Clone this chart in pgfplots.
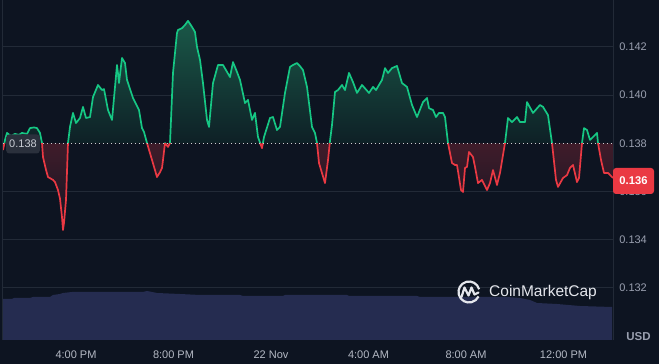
\documentclass[border=0pt]{standalone}
\usepackage{fontspec}
\setmainfont{Liberation Sans}
\usepackage{pgfplots}
\pgfplotsset{compat=1.18}
\usepackage{pgfplotstable}

\definecolor{bgc}{RGB}{13,20,33}
\definecolor{gridc}{RGB}{34,42,55}
\definecolor{volc}{RGB}{37,44,80}
\definecolor{upc}{RGB}{22,199,132}
\definecolor{dnc}{RGB}{234,57,67}
\definecolor{gfT}{RGB}{26,88,72}
\definecolor{gfB}{RGB}{14,32,38}
\definecolor{rfT}{RGB}{64,28,42}
\definecolor{rfB}{RGB}{18,21,35}
\definecolor{ylab}{RGB}{154,160,176}
\definecolor{xlab}{RGB}{180,185,196}
\definecolor{logoc}{RGB}{228,230,236}
\definecolor{boxc}{RGB}{42,48,60}

\pgfplotstableread{
x p
3 0.13772
5 0.13814
7 0.13843
11 0.13830
15 0.13839
19 0.13835
22 0.13843
27 0.13839
30 0.13863
34 0.13866
37 0.13863
40 0.13843
42 0.13801
43 0.13743
46 0.13690
48 0.13660
53 0.13648
55 0.13639
58 0.13606
60 0.13570
62 0.13494
63 0.13440
64 0.13470
66 0.13565
68 0.13801
70 0.13868
73 0.13926
76 0.13884
80 0.13905
83 0.13951
86 0.13905
90 0.13909
93 0.13992
98 0.14042
102 0.14021
104 0.14025
108 0.13938
112 0.13897
115 0.14034
117 0.14125
118 0.14090
119 0.14050
122 0.14154
125 0.14133
127 0.14063
133 0.13988
139 0.13938
142 0.13863
144 0.13847
147 0.13801
152 0.13731
157 0.13660
160 0.13680
162 0.13698
163 0.13731
165 0.13801
168 0.13785
170 0.13801
173 0.14092
177 0.14258
178 0.14270
182 0.14278
185 0.14291
188 0.14308
192 0.14283
195 0.14262
197 0.14200
200 0.14146
203 0.14050
207 0.13897
209 0.13868
213 0.14050
218 0.14125
223 0.14125
230 0.14075
233 0.14137
237 0.14096
240 0.14063
245 0.13967
248 0.13980
252 0.13897
255 0.13926
258 0.13826
262 0.13780
264 0.13826
270 0.13905
273 0.13909
277 0.13855
280 0.13868
285 0.14009
290 0.14117
293 0.14125
297 0.14133
300 0.14120
303 0.14104
307 0.14034
312 0.13868
315 0.13843
317 0.13801
319 0.13718
325 0.13635
328 0.13730
330 0.13810
332 0.13876
335 0.14013
338 0.14021
342 0.14042
345 0.14021
349 0.14092
353 0.14054
357 0.14009
362 0.14042
369 0.14009
373 0.14034
376 0.14021
382 0.14063
385 0.14112
388 0.14092
392 0.14112
397 0.14121
402 0.14050
407 0.14034
412 0.13959
417 0.13909
423 0.13971
427 0.13988
429 0.13946
433 0.13938
436 0.13909
439 0.13926
443 0.13926
445 0.13909
448 0.13801
452 0.13718
455 0.13710
457 0.13710
461 0.13606
463 0.13598
465 0.13698
467 0.13702
469 0.13764
473 0.13743
475 0.13702
478 0.13635
482 0.13648
487 0.13606
490 0.13635
493 0.13689
497 0.13627
500 0.13677
505 0.13801
508 0.13905
512 0.13888
517 0.13909
520 0.13888
525 0.13888
527 0.13971
533 0.13926
540 0.13959
543 0.13951
548 0.13917
552 0.13801
556 0.13648
558 0.13619
563 0.13656
567 0.13668
570 0.13698
573 0.13710
577 0.13639
579 0.13656
582 0.13801
584 0.13863
587 0.13855
590 0.13814
593 0.13826
597 0.13843
598 0.13801
601 0.13731
604 0.13677
608 0.13677
613 0.13656
}\price

\pgfplotstableread{
x v
3 41
12 41
14 42
30 42
33 43
50 43
53 45
60 46
63 47
72 48
143 48
147 49
152 48
157 47
180 46
200 45
240 45
243 44
283 44
285 45
347 45
349 44
417 44
420 43
507 43
520 42
530 40
537 37
557 36
580 34
612 33
}\vol

\pgfplotsset{half/.style={scale only axis, anchor=south west, width=610pt,
  xmin=3, xmax=613, hide axis}}

\begin{document}
\begin{tikzpicture}[x=1pt,y=1pt]
\fill[bgc,use as bounding box] (0,0) rectangle (659,364);

% volume
\begin{axis}[half, at={(3pt,24pt)}, height=340pt, ymin=0, ymax=340]
\addplot[draw=none, fill=volc] table[x=x,y=v]{\vol} \closedcycle;
\end{axis}

% price frame: grid, ticks, labels
\begin{axis}[at={(3pt,24pt)}, anchor=south west, scale only axis,
  width=610pt, height=340pt, xmin=3, xmax=613,
  ymin=0.129837, ymax=0.143947,
  axis line style={draw=none}, tick style={draw=none},
  /pgf/number format/assume math mode=true,
  scaled y ticks=false,
  ytick={0.132,0.134,0.136,0.138,0.140,0.142},
  yticklabels={0.132,0.134,0.136,0.138,0.140,0.142},
  yticklabel pos=right,
  yticklabel style={anchor=west, xshift=2.8pt, text=ylab, font=\fontsize{11}{13}\selectfont},
  extra y ticks={0.132,0.134,0.136,0.140,0.142},
  extra y tick labels={},
  extra y tick style={grid=major, major grid style={gridc, line width=0.9pt}},
  xtick={76,173.5,271,368.5,466,563.5},
  xticklabels={4:00 PM,8:00 PM,22 Nov,4:00 AM,8:00 AM,12:00 PM},
  xticklabel style={anchor=base, yshift=-19pt, text=xlab, font=\fontsize{11}{13}\selectfont},
]
\addplot[draw=none] coordinates {(3,0.138) (613,0.138)};
\end{axis}

% price above 0.138 (green), values as offsets from 0.138
\begin{axis}[half, at={(3pt,220.7pt)}, height=143.3pt, ymin=0, ymax=0.005947]
\addplot[draw=none, top color=gfT, bottom color=gfB] table[x=x,y expr={max(\thisrow{p}-0.138,0)}]{\price} \closedcycle;
\addplot[upc, line width=1.7pt, line join=round] table[x=x,y expr={\thisrow{p}-0.138}]{\price};
\end{axis}

% price below 0.138 (red)
\begin{axis}[half, at={(3pt,24pt)}, height=196.7pt, ymin=-0.008163, ymax=0]
\addplot[draw=none, top color=rfT, bottom color=rfB] table[x=x,y expr={min(\thisrow{p}-0.138,0)}]{\price} \closedcycle;
\addplot[dnc, line width=1.7pt, line join=round] table[x=x,y expr={\thisrow{p}-0.138}]{\price};
\end{axis}

% baseline at 0.138
\draw[color=white!78!gridc, line width=0.8pt, dash pattern=on 1pt off 3pt] (3,220.7) -- (613,220.7);

% frame lines
\draw[gridc, line width=0.8pt] (613,24) -- (613,364);
\draw[gridc, line width=0.6pt] (2.5,24) -- (2.5,364);

% labels
\node[fill=boxc, rounded corners=3pt, inner xsep=3pt, minimum height=19pt, text={rgb,255:red,200;green,204;blue,212}, font=\fontsize{11}{13}\selectfont] at (23,220) {0.138};
\node[fill=dnc, rounded corners=3pt, minimum width=41pt, minimum height=26pt, inner sep=0pt, text=white, font=\bfseries\fontsize{11.2}{13}\selectfont] at (633.5,183) {0.136};
\node[text=ylab, font=\bfseries\fontsize{11.5}{13}\selectfont] at (638.5,27) {USD};

% logo
\draw[logoc, line width=2.2pt] (479.14,74.72) arc[start angle=15, end angle=335, radius=10.5];
\draw[logoc, line width=2.2pt, line join=round, line cap=round] (461.5,67) -- (464.5,76.5) -- (468.5,68.5) -- (471.5,76.5) -- (474.5,69.5) -- (478.5,71.5);
\node[anchor=base west, inner sep=0pt, text=logoc, font=\fontsize{15.5}{17}\selectfont] at (489,67) {CoinMarketCap};
\end{tikzpicture}
\end{document}
